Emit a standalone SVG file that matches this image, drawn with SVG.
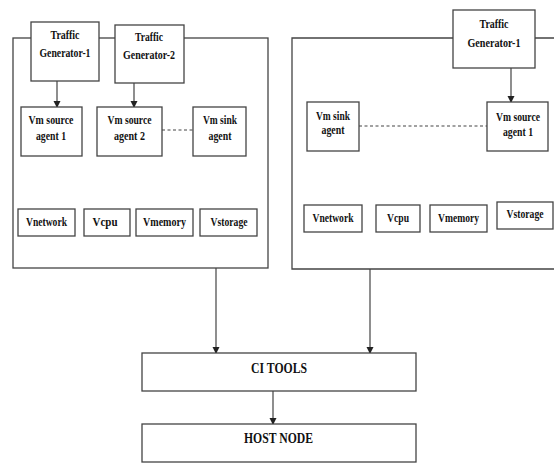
<svg xmlns="http://www.w3.org/2000/svg" width="554" height="463" viewBox="0 0 554 463">
<style>
.b{fill:#fff;stroke:#444;stroke-width:1.3}
.c{fill:none;stroke:#444;stroke-width:1.2}
.d{fill:none;stroke:#444;stroke-width:1.2;stroke-dasharray:3,2.5}
text{font-family:"Liberation Serif","Times New Roman",serif;font-weight:bold;font-size:13px;fill:#111;text-anchor:middle}
.L{font-size:14px}
</style>
<defs>
<marker id="ah" markerWidth="7" markerHeight="8" refX="6" refY="3.5" orient="auto" markerUnits="userSpaceOnUse">
<path d="M0,0 L7,3.5 L0,7 Z" fill="#222"/>
</marker>
</defs>
<rect width="554" height="463" fill="#fff"/>
<g id="vm-left"><rect class="b" x="13" y="38" width="255" height="230"/></g>
<g id="vm-right"><path class="b" d="M560,38 H292 V269 H560"/></g>
<g id="connectors">
<line class="c" x1="57" y1="81" x2="57" y2="107" marker-end="url(#ah)"/>
<line class="c" x1="134" y1="83" x2="134" y2="107" marker-end="url(#ah)"/>
<line class="d" x1="162" y1="130" x2="193" y2="130"/>
<line class="c" x1="511" y1="68" x2="511" y2="102" marker-end="url(#ah)"/>
<line class="d" x1="359" y1="126" x2="487" y2="126"/>
<line class="c" x1="216" y1="268" x2="216" y2="353" marker-end="url(#ah)"/>
<line class="c" x1="370" y1="269" x2="370" y2="353" marker-end="url(#ah)"/>
<line class="c" x1="273" y1="391" x2="273" y2="424" marker-end="url(#ah)"/>
</g>
<g id="tg1-left"><rect class="b" x="31" y="22" width="68" height="59"/>
<text x="65" y="39" textLength="29" lengthAdjust="spacingAndGlyphs">Traffic</text>
<text x="65" y="57" textLength="51" lengthAdjust="spacingAndGlyphs">Generator-1</text></g>
<g id="tg2-left"><rect class="b" x="115" y="25" width="69" height="58"/>
<text x="149" y="41" textLength="28" lengthAdjust="spacingAndGlyphs">Traffic</text>
<text x="149" y="59" textLength="52" lengthAdjust="spacingAndGlyphs">Generator-2</text></g>
<g id="src1-left"><rect class="b" x="21" y="107" width="61" height="49"/>
<text x="51" y="124" textLength="45" lengthAdjust="spacingAndGlyphs">Vm source</text>
<text x="51" y="140" textLength="30" lengthAdjust="spacingAndGlyphs">agent 1</text></g>
<g id="src2-left"><rect class="b" x="97" y="107" width="65" height="49"/>
<text x="129.5" y="124" textLength="44" lengthAdjust="spacingAndGlyphs">Vm source</text>
<text x="129.5" y="140" textLength="31" lengthAdjust="spacingAndGlyphs">agent 2</text></g>
<g id="sink-left"><rect class="b" x="193" y="107" width="53" height="49"/>
<text x="220" y="124" textLength="34" lengthAdjust="spacingAndGlyphs">Vm sink</text>
<text x="220" y="140" textLength="23" lengthAdjust="spacingAndGlyphs">agent</text></g>
<g id="vnet-left"><rect class="b" x="18" y="209" width="57" height="27"/>
<text x="46.5" y="226" textLength="41" lengthAdjust="spacingAndGlyphs">Vnetwork</text></g>
<g id="vcpu-left"><rect class="b" x="84" y="209" width="46" height="27"/>
<text x="105" y="226" textLength="25" lengthAdjust="spacingAndGlyphs">Vcpu</text></g>
<g id="vmem-left"><rect class="b" x="136" y="209" width="57" height="27"/>
<text x="164.5" y="226" textLength="43" lengthAdjust="spacingAndGlyphs">Vmemory</text></g>
<g id="vsto-left"><rect class="b" x="200" y="209" width="57" height="27"/>
<text x="229" y="226" textLength="37" lengthAdjust="spacingAndGlyphs">Vstorage</text></g>
<g id="tg1-right"><rect class="b" x="453" y="10" width="82" height="58"/>
<text x="494" y="28" textLength="29" lengthAdjust="spacingAndGlyphs">Traffic</text>
<text x="494" y="47" textLength="53" lengthAdjust="spacingAndGlyphs">Generator-1</text></g>
<g id="sink-right"><rect class="b" x="307" y="102" width="52" height="49"/>
<text x="333" y="120" textLength="34" lengthAdjust="spacingAndGlyphs">Vm sink</text>
<text x="333" y="134" textLength="23" lengthAdjust="spacingAndGlyphs">agent</text></g>
<g id="src1-right"><rect class="b" x="487" y="102" width="61" height="49"/>
<text x="518" y="121" textLength="44" lengthAdjust="spacingAndGlyphs">Vm source</text>
<text x="518" y="136" textLength="30" lengthAdjust="spacingAndGlyphs">agent 1</text></g>
<g id="vnet-right"><rect class="b" x="304" y="205" width="58" height="27"/>
<text x="333" y="222" textLength="41" lengthAdjust="spacingAndGlyphs">Vnetwork</text></g>
<g id="vcpu-right"><rect class="b" x="376" y="205" width="44" height="27"/>
<text x="398" y="222" textLength="22" lengthAdjust="spacingAndGlyphs">Vcpu</text></g>
<g id="vmem-right"><rect class="b" x="430" y="205" width="57" height="27"/>
<text x="458.5" y="222" textLength="41" lengthAdjust="spacingAndGlyphs">Vmemory</text></g>
<g id="vsto-right"><rect class="b" x="497" y="202" width="56" height="27"/>
<text x="525" y="218" textLength="37" lengthAdjust="spacingAndGlyphs">Vstorage</text></g>
<g id="ci-tools"><rect class="b" x="142" y="353" width="274" height="38"/>
<text class="L" x="279" y="373" textLength="56" lengthAdjust="spacingAndGlyphs">CI TOOLS</text></g>
<g id="host-node"><rect class="b" x="142" y="424" width="274" height="38"/>
<text class="L" x="278.5" y="443" textLength="69" lengthAdjust="spacingAndGlyphs">HOST NODE</text></g>
</svg>
